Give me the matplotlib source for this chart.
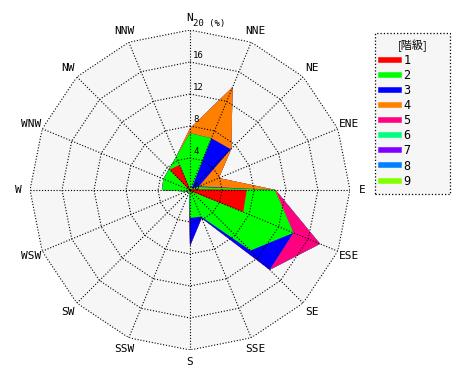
import numpy as np
import matplotlib
matplotlib.use('Agg')
import matplotlib.pyplot as plt
from matplotlib.lines import Line2D

# wind directions, clockwise from north
dirs = ['N', 'NNE', 'NE', 'ENE', 'E', 'ESE', 'SE', 'SSE',
        'S', 'SSW', 'SW', 'WSW', 'W', 'WNW', 'NW', 'NNW']

# frequency (%) per class and direction
c1 = [0.1, 0.2, 0.1, 0.3, 7.1, 7.2, 0.3, 0.3, 0.3, 0.1, 0.1, 0.1, 0.2, 0.2, 3.6, 3.4]
c2 = [7.0, 6.8, 0.2, 0.7, 3.5, 6.8, 10.4, 3.3, 3.2, 0.2, 0.2, 0.4, 3.3, 3.4, 0.1, 1.1]
c3 = [0.0, 0.0, 6.9, 0.2, 0.0, 0.0, 3.4, 0.2, 3.5, 0.0, 0.0, 0.0, 0.0, 0.0, 0.0, 0.0]
c4 = [0.6, 6.9, 0.1, 2.7, 0.1, 0.0, 0.0, 0.0, 0.0, 0.0, 0.0, 0.0, 0.0, 0.0, 0.0, 0.0]
c5 = [0.0, 0.0, 0.0, 0.0, 0.0, 3.6, 0.0, 0.0, 0.0, 0.0, 0.0, 0.0, 0.0, 0.0, 0.0, 0.0]
c6 = [0.0] * 16
c7 = [0.0] * 16
c8 = [0.0] * 16
c9 = [0.0] * 16

classes = ['1', '2', '3', '4', '5', '6', '7', '8', '9']
colors = ['#ff0000', '#00ff00', '#0000ff', '#ff8000', '#ff0080',
          '#00ff80', '#8000ff', '#0080ff', '#80ff00']
rings = [4, 8, 12, 16, 20]

values = np.array([c1, c2, c3, c4, c5, c6, c7, c8, c9])
cum = np.cumsum(values, axis=0)

theta = np.deg2rad(np.arange(16) * 22.5)
theta_c = np.append(theta, theta[0])

fig = plt.figure(figsize=(4.7, 3.8), dpi=100)
ax = fig.add_axes([30/470, 30/380, 320/470, 320/380], projection='polar')
ax.set_theta_zero_location('N')
ax.set_theta_direction(-1)
ax.set_ylim(0, 20)
ax.set_facecolor('none')
ax.grid(False)
ax.spines['polar'].set_visible(False)
ax.set_xticks([])
ax.set_yticks([])

# background of the rose
ax.fill(theta_c, np.full(17, 20.0), color='#f6f6f6', zorder=0, lw=0)

# stacked classes, outermost first
for i in range(len(classes) - 1, -1, -1):
    r = np.append(cum[i], cum[i][0])
    ax.fill(theta_c, r, color=colors[i], lw=0, zorder=1)

# polygon rings and spokes
dot = (0, (1, 1.6))
for rr in rings:
    ax.plot(theta_c, np.full(17, rr), color='black', lw=0.8, ls=dot, zorder=2)
for t in theta:
    ax.plot([t, t], [0, 20], color='black', lw=0.8, ls=dot, zorder=2)

mono = 'DejaVu Sans Mono'
for t, d in zip(theta, dirs):
    ax.text(t, 21.5, d, ha='center', va='center', fontsize=8,
            family=mono, clip_on=False)

for rr in [0] + rings:
    lab = '20 (%)' if rr == 20 else str(rr)
    ax.annotate(lab, xy=(0, rr), xytext=(3, 2), textcoords='offset pixels',
                ha='left', va='bottom' if rr else 'center', fontsize=6.5,
                family=mono, annotation_clip=False, zorder=3)

handles = [Line2D([], [], color=c, lw=4) for c in colors]
leg = fig.legend(handles, classes, loc='upper left',
                 bbox_to_anchor=(375/470, 185/380, 75/470, 162/380),
                 mode='expand', title='[階級]',
                 handlelength=1.5, handletextpad=0.4, labelspacing=0.18,
                 fancybox=False, borderpad=0.5, borderaxespad=0,
                 prop={'family': mono, 'size': 8.5})
leg.get_title().set_family(['Noto Sans CJK JP', 'DejaVu Sans'])
leg.get_title().set_fontsize(8)
frame = leg.get_frame()
frame.set_facecolor('#f6f6f6')
frame.set_edgecolor('black')
frame.set_linestyle(':')
frame.set_linewidth(0.9)
frame.set_alpha(1)

fig.savefig('out.png', dpi=100)
